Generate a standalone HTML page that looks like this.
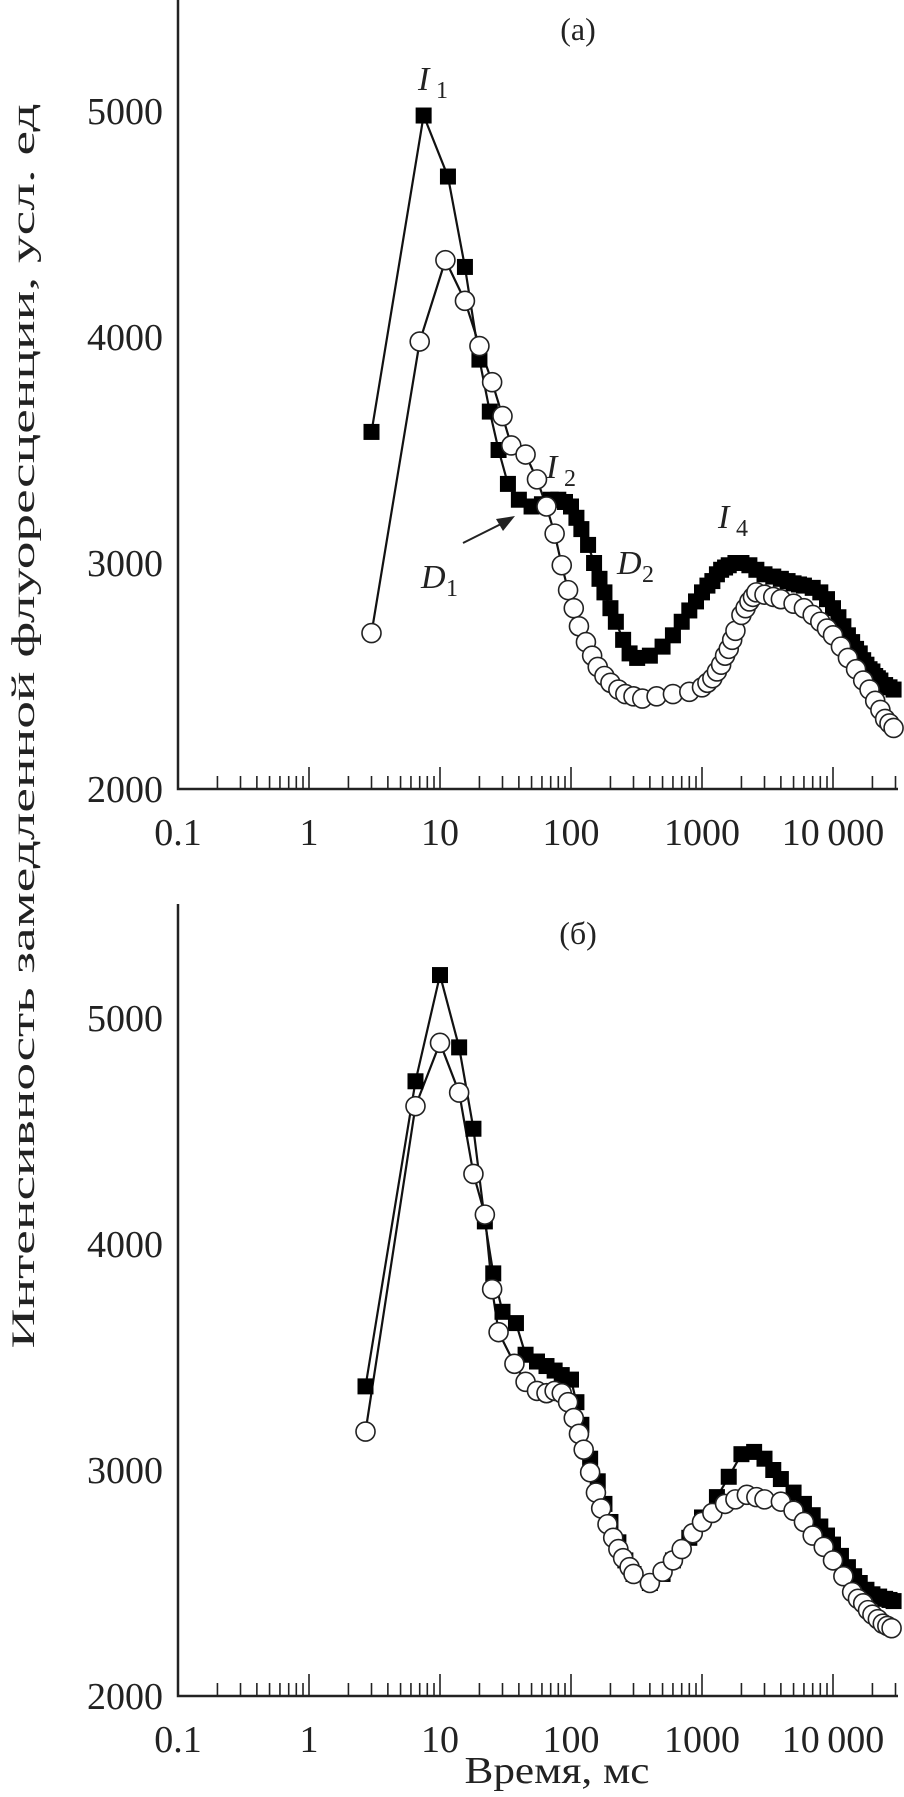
<!DOCTYPE html>
<html><head><meta charset="utf-8">
<style>
html,body{margin:0;padding:0;background:#fff;}
svg{display:block;font-family:"Liberation Serif","DejaVu Serif",serif;}
</style></head>
<body>
<svg id="chart" width="904" height="1797" viewBox="0 0 904 1797" xmlns="http://www.w3.org/2000/svg">
<text x="0" y="0" transform="translate(34,726) rotate(-90)" text-anchor="middle" font-size="33" textLength="1245" lengthAdjust="spacingAndGlyphs" fill="#222">Интенсивность замедленной флуоресценции, усл. ед</text>
<text x="557" y="1783" text-anchor="middle" font-size="38" fill="#222" textLength="185" lengthAdjust="spacingAndGlyphs">Время, мс</text>
<text x="578" y="40" text-anchor="middle" font-size="32" fill="#222">(a)</text>
<text x="578" y="944" text-anchor="middle" font-size="32" fill="#222">(б)</text>
<g><text x="418" y="90" font-size="34" font-style="italic" fill="#222">I</text><text x="436" y="98" font-size="24" fill="#222">1</text></g>
<g><text x="546" y="478" font-size="34" font-style="italic" fill="#222">I</text><text x="564" y="486" font-size="24" fill="#222">2</text></g>
<g><text x="718" y="528" font-size="34" font-style="italic" fill="#222">I</text><text x="736" y="536" font-size="24" fill="#222">4</text></g>
<g><text x="421" y="588" font-size="34" font-style="italic" fill="#222">D</text><text x="446" y="596" font-size="24" fill="#222">1</text></g>
<g><text x="617" y="574" font-size="34" font-style="italic" fill="#222">D</text><text x="642" y="582" font-size="24" fill="#222">2</text></g>
<g>
<line x1="463" y1="543" x2="505" y2="522" stroke="#222" stroke-width="2"/>
<polygon points="515,516 496,519 503,531" fill="#222"/>
</g>
</svg>
<script>
// Panel (a) data
const aSqT=[3,7.5,11.5,15.5,20,24,28,33,40,50,60,70,80,90,100,110,120,135,150,165,180,200,220,250,280,320,400,500,600,700,800,900,1000,1100,1200,1300,1400,1500,1600,1800,2000,2300,2600,3000,3500,4000,4500,5000,5500,6000,7000,8000,9000,10000,11000,12000,13000,14000,15000,16000,17000,18000,19000,20000,21000,22000,23000,25000,27000,29000];
const aSqV=[3580,4980,4710,4310,3900,3670,3500,3350,3280,3250,3260,3280,3280,3270,3250,3200,3150,3080,3000,2930,2870,2800,2740,2660,2600,2580,2590,2630,2680,2740,2790,2830,2870,2900,2920,2950,2970,2980,2990,3000,3000,2990,2970,2950,2940,2930,2920,2910,2905,2900,2890,2870,2840,2800,2760,2720,2680,2650,2620,2600,2570,2550,2530,2520,2500,2490,2480,2460,2450,2440];
const aCiT=[3,7,11,15.5,20,25,30,35,45,55,65,75,85,95,105,115,130,145,160,180,200,230,260,300,350,450,600,800,1000,1100,1200,1300,1400,1500,1600,1700,1800,2000,2150,2300,2450,2600,3000,3500,4000,5000,6000,7000,8000,9000,10000,11500,13000,15000,17000,19000,21000,23000,25000,27000,29000];
const aCiV=[2690,3980,4340,4160,3960,3800,3650,3520,3480,3370,3250,3130,2990,2880,2800,2720,2650,2590,2540,2500,2470,2440,2420,2410,2400,2410,2420,2430,2450,2470,2490,2520,2550,2590,2620,2660,2700,2770,2800,2830,2850,2870,2860,2850,2840,2820,2800,2770,2740,2710,2680,2630,2580,2530,2480,2440,2390,2350,2310,2290,2270];
// Panel (b) data
const bSqT=[2.7,6.5,10,14,18,22,25.5,30,38,45,55,65,75,85,100,110,120,140,160,180,200,230,260,300,400,500,600,800,1000,1300,1600,2000,2500,3000,3500,4000,5000,6000,7000,8000,9000,10000,11500,13000,14500,16000,18000,20000,22500,25000,27000,29000];
const bSqV=[3370,4720,5190,4870,4510,4100,3870,3700,3650,3510,3480,3460,3440,3420,3400,3300,3200,3050,2950,2850,2770,2680,2600,2540,2500,2540,2600,2700,2790,2880,2970,3070,3080,3050,3000,2960,2900,2850,2800,2750,2710,2670,2620,2570,2530,2500,2470,2450,2440,2430,2425,2420];
const bCiT=[2.7,6.5,10,14,18,22,25,28,37,45,55,65,75,85,95,105,115,125,140,155,170,190,210,230,250,280,300,400,500,600,700,850,1000,1200,1500,1800,2200,2600,3000,4000,5000,6000,7000,8500,10000,12000,14000,15500,17000,18500,20000,22000,24000,26000,28000];
const bCiV=[3170,4610,4890,4670,4310,4130,3800,3610,3470,3390,3350,3340,3350,3340,3300,3230,3160,3090,2990,2900,2830,2760,2700,2650,2610,2570,2540,2500,2550,2600,2650,2720,2770,2810,2850,2870,2890,2880,2870,2860,2820,2770,2710,2660,2600,2530,2460,2430,2410,2380,2360,2340,2320,2310,2300];
const yTicks=[2000,3000,4000,5000];
const xTickLabels=["0.1","1","10","100","1000","10000"];
const xTickVals=[0.1,1,10,100,1000,10000];

const NS="http://www.w3.org/2000/svg";
const svg=document.getElementById('chart');
const X0=178, XR=898, DEC=131;
function xs(t){return X0+(Math.log10(t)+1)*DEC;}
function mk(tag,attrs,parent){const e=document.createElementNS(NS,tag);for(const k in attrs)e.setAttribute(k,attrs[k]);(parent||svg).appendChild(e);return e;}

function panel(id,base,top,sqT,sqV,ciT,ciV){
  const PX=226/1000;
  const ys=v=>base-(v-2000)*PX;
  const g=mk('g',{});
  
  
  const ax=mk('path',{d:`M${X0},${top} V${base} H${XR}`,stroke:'#222','stroke-width':2.5,fill:'none'},g);
  
  
  for(let d=-1;d<=4;d++){
    for(let m=1;m<=9;m++){
      const t=m*Math.pow(10,d); if(t>30000)break;
      if(d===-1&&m===1)continue;
      const x=xs(t); const h=(m===1)?22:13;
      const tk=mk('line',{x1:x,y1:base,x2:x,y2:base-h,stroke:'#222','stroke-width':1.6},g);
      
      
    }
  }
  xTickVals.forEach((v,i)=>{
    const tx=mk('text',{x:xs(v),y:base+56,'text-anchor':'middle','font-size':38,fill:'#222'},g);
    
    
    tx.textContent=xTickLabels[i]==="10000"?"10\u2009000":xTickLabels[i];
  });
  yTicks.forEach(v=>{
    const tx=mk('text',{x:163,y:ys(v)+13,'text-anchor':'end','font-size':38,fill:'#222'},g);
    
    
    tx.textContent=String(v);
  });
  const clip=mk('g',{},g);
  const l1=mk('polyline',{points:sqT.map((t,i)=>xs(t)+','+ys(sqV[i])).join(' '),fill:'none',stroke:'#111','stroke-width':2.2},clip);
  
  
  const l2=mk('polyline',{points:ciT.map((t,i)=>xs(t)+','+ys(ciV[i])).join(' '),fill:'none',stroke:'#111','stroke-width':2.2},clip);
  
  
  sqT.forEach((t,i)=>{
    const r=mk('rect',{x:xs(t)-8,y:ys(sqV[i])-8,width:16,height:16,fill:'#000'},clip);
    
    
  });
  ciT.forEach((t,i)=>{
    const c=mk('circle',{cx:xs(t),cy:ys(ciV[i]),r:9.5,fill:'#fff',stroke:'#222','stroke-width':1.6},clip);
    
    
  });
}
panel('panel-a',789,0,aSqT,aSqV,aCiT,aCiV);
panel('panel-b',1696,904,bSqT,bSqV,bCiT,bCiV);
</script>
</body></html>
